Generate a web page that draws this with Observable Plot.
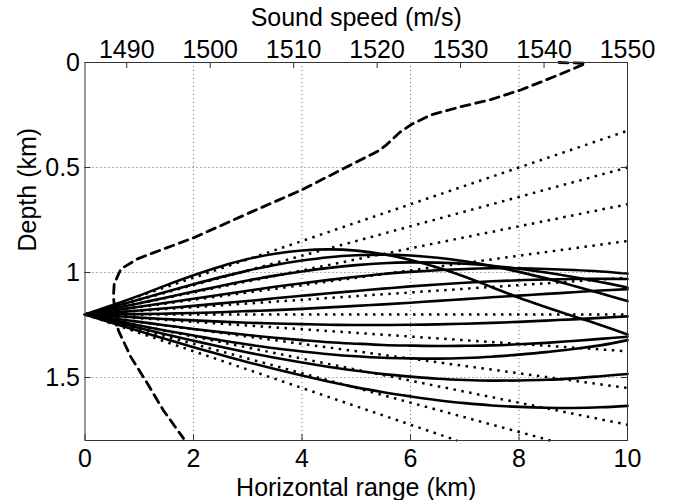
<!DOCTYPE html>
<html><head><meta charset="utf-8">
<script src="https://cdn.jsdelivr.net/npm/d3@7"></script>
<script src="https://cdn.jsdelivr.net/npm/@observablehq/plot@0.6"></script>
<style>body{margin:0;background:#fff;}</style>
</head><body><div id="chart"></div>
<script>
// ---- axes / ticks ----
const rangeTicks = [0, 2, 4, 6, 8, 10];
const rangeGrid = [2, 4, 6, 8];
const depthTicks = [0, 0.5, 1, 1.5];
const depthGrid = [0.5, 1, 1.5];
const speedTicks = [1490, 1500, 1510, 1520, 1530, 1540, 1550];
const rangeLimits = [0, 10];
const depthLimits = [0, 1.8];
const speedLimits = [1485, 1550];

// ---- sound speed profile (dashed) ----
const profileSpeed = [1541.8, 1545.0, 1542.0, 1537.2, 1533.6, 1530.0, 1526.4, 1524.2, 1522.8, 1521.0, 1520.2, 1510.8, 1504.4, 1498.0, 1494.4, 1491.3, 1489.3, 1488.5, 1488.4, 1488.7, 1489.0, 1490.5, 1492.5, 1494.4, 1496.8];
const profileDepth = [0.0, 0.004, 0.055, 0.131, 0.177, 0.211, 0.250, 0.293, 0.330, 0.396, 0.420, 0.610, 0.721, 0.835, 0.888, 0.935, 0.983, 1.054, 1.118, 1.213, 1.276, 1.403, 1.530, 1.657, 1.790];

// ---- source ----
const sourceRange = 0;
const sourceDepth = 1.2;

// ---- straight (dotted) rays: end points ----
const straightEndRange = [10, 10, 10, 10, 10, 10, 10, 10, 10, 8.58, 6.86];
const straightEndDepth = [0.325, 0.500, 0.675, 0.850, 1.025, 1.200, 1.375, 1.550, 1.725, 1.800, 1.800];

// ---- refracted (solid) rays: depth at each range ----
const rayRange = [0, 0.5, 1, 1.5, 2, 2.5, 3, 3.5, 4, 4.5, 5, 5.5, 6, 6.5, 7, 7.5, 8, 8.5, 9, 9.5, 10];
const rayM5 = [1.200, 1.156, 1.110, 1.060, 1.013, 0.971, 0.936, 0.911, 0.895, 0.890, 0.896, 0.913, 0.940, 0.976, 1.020, 1.070, 1.120, 1.165, 1.208, 1.250, 1.295];
const rayM4 = [1.200, 1.164, 1.129, 1.092, 1.056, 1.022, 0.991, 0.964, 0.943, 0.927, 0.918, 0.915, 0.919, 0.930, 0.947, 0.969, 0.997, 1.028, 1.063, 1.099, 1.136];
const rayM3 = [1.200, 1.173, 1.146, 1.119, 1.091, 1.064, 1.038, 1.015, 0.995, 0.978, 0.965, 0.956, 0.952, 0.953, 0.958, 0.968, 0.982, 1.000, 1.021, 1.045, 1.071];
const rayM2 = [1.200, 1.182, 1.163, 1.144, 1.125, 1.106, 1.087, 1.068, 1.051, 1.035, 1.020, 1.007, 0.997, 0.989, 0.983, 0.980, 0.980, 0.983, 0.988, 0.995, 1.005];
const rayM1 = [1.200, 1.191, 1.181, 1.170, 1.159, 1.147, 1.136, 1.123, 1.111, 1.099, 1.088, 1.077, 1.066, 1.057, 1.049, 1.042, 1.037, 1.033, 1.031, 1.030, 1.031];
const ray0  = [1.200, 1.200, 1.198, 1.196, 1.193, 1.189, 1.184, 1.179, 1.173, 1.166, 1.159, 1.152, 1.144, 1.135, 1.127, 1.118, 1.110, 1.102, 1.094, 1.086, 1.079];
const rayP1 = [1.200, 1.207, 1.215, 1.222, 1.228, 1.234, 1.239, 1.243, 1.246, 1.249, 1.250, 1.250, 1.249, 1.247, 1.244, 1.240, 1.235, 1.229, 1.223, 1.216, 1.209];
const rayP2 = [1.200, 1.218, 1.235, 1.252, 1.269, 1.284, 1.298, 1.311, 1.322, 1.332, 1.339, 1.345, 1.348, 1.350, 1.349, 1.347, 1.342, 1.335, 1.326, 1.316, 1.306];
const rayP3 = [1.200, 1.226, 1.252, 1.277, 1.300, 1.323, 1.343, 1.361, 1.376, 1.389, 1.399, 1.406, 1.409, 1.410, 1.407, 1.401, 1.391, 1.379, 1.364, 1.347, 1.322];
const rayP4 = [1.200, 1.232, 1.264, 1.295, 1.325, 1.354, 1.381, 1.406, 1.429, 1.450, 1.468, 1.484, 1.496, 1.506, 1.512, 1.515, 1.514, 1.511, 1.504, 1.494, 1.483];
const rayP5 = [1.200, 1.240, 1.279, 1.318, 1.356, 1.392, 1.427, 1.460, 1.491, 1.520, 1.547, 1.570, 1.590, 1.608, 1.622, 1.633, 1.640, 1.644, 1.645, 1.642, 1.635];
const rays = [rayM5, rayM4, rayM3, rayM2, rayM1, ray0, rayP1, rayP2, rayP3, rayP4, rayP5];

// ---- build tables ----
const profile = profileSpeed.map((s, i) => ({s, d: profileDepth[i]}));
const rayTable = rays.flatMap((ray, k) => ray.map((d, i) => ({ray: k, r: rayRange[i], d})));
const straightIdx = straightEndRange.map((_, i) => i);
// top (sound speed) axis shares the frame with the range axis
const speedToRange = s => rangeLimits[0] + (s - speedLimits[0]) / (speedLimits[1] - speedLimits[0]) * (rangeLimits[1] - rangeLimits[0]);
const rangeToSpeed = r => speedLimits[0] + (r - rangeLimits[0]) / (rangeLimits[1] - rangeLimits[0]) * (speedLimits[1] - speedLimits[0]);

const W = 674, H = 500, mL = 84.5, mR = 47, mT = 62, mB = 60;
const plotW = W - mL - mR, plotH = H - mT - mB;
const font = "'Liberation Sans', Arial, Helvetica, sans-serif";
const FS = 25;
const gridStyle = {stroke: "#666", strokeWidth: 1, strokeDasharray: "1,3"};
const axisColor = "#333";

const chart = Plot.plot({
  width: W, height: H,
  marginLeft: mL, marginRight: mR, marginTop: mT, marginBottom: mB,
  style: {fontFamily: font, fontSize: FS + "px", background: "white", color: "black"},
  x: {domain: rangeLimits},
  y: {domain: depthLimits, reverse: true},
  marks: [
    Plot.ruleX(rangeGrid, {x: d => d, ...gridStyle}),
    Plot.ruleY(depthGrid, {y: d => d, ...gridStyle}),
    Plot.link(straightIdx, {
      x1: () => sourceRange, y1: () => sourceDepth,
      x2: i => straightEndRange[i], y2: i => straightEndDepth[i],
      stroke: "black", strokeWidth: 2.5, strokeDasharray: "2.5,5.5"
    }),
    Plot.line(rayTable, {x: "r", y: "d", z: "ray", curve: "catmull-rom", stroke: "black", strokeWidth: 2.6}),
    Plot.line(profile, {x: d => speedToRange(d.s), y: "d", stroke: "black", strokeWidth: 2.8, strokeDasharray: "9,6"}),
    Plot.frame({stroke: axisColor, strokeWidth: 1}),
    // inward ticks
    Plot.tickX(rangeTicks, {x: d => d, insetTop: plotH - 6, stroke: axisColor}),
    Plot.tickX(speedTicks, {x: speedToRange, insetBottom: plotH - 6, stroke: axisColor}),
    Plot.tickY(depthTicks, {y: d => d, insetRight: plotW - 6, stroke: axisColor}),
    Plot.tickY(depthTicks, {y: d => d, insetLeft: plotW - 6, stroke: axisColor}),
    // tick labels
    Plot.axisX({anchor: "bottom", ticks: rangeTicks, tickSize: 0, tickPadding: 9, label: null, fontSize: FS, tickFormat: d => String(d)}),
    Plot.axisX({anchor: "top", ticks: speedTicks.map(speedToRange), tickSize: 0, tickPadding: 5, label: null, fontSize: FS,
      tickFormat: d => String(Math.round(rangeToSpeed(d)))}),
    Plot.axisY({anchor: "left", ticks: depthTicks, tickSize: 0, tickPadding: 5, label: null, fontSize: FS, tickFormat: d => String(d)}),
    // axis titles
    Plot.text(["Sound speed (m/s)"], {frameAnchor: "top", dy: -54, fontSize: FS}),
    Plot.text(["Horizontal range (km)"], {frameAnchor: "bottom", dy: 55, fontSize: FS}),
    Plot.text(["Depth (km)"], {frameAnchor: "left", dx: -57, rotate: -90, fontSize: FS})
  ]
});
document.getElementById("chart").appendChild(chart);
</script>
</body></html>
